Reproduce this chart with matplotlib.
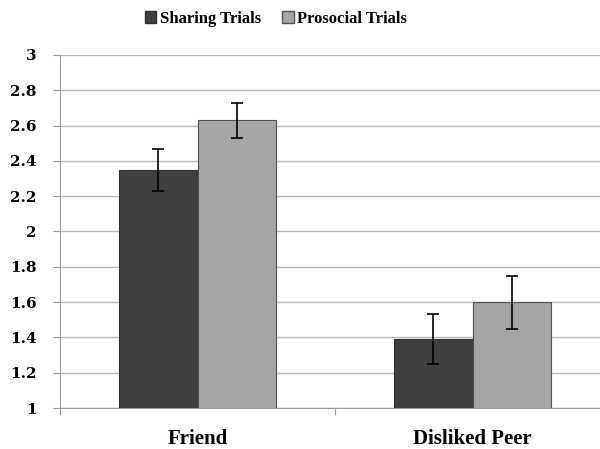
import numpy as np
import matplotlib.pyplot as plt
from matplotlib.patches import Patch

categories = ['Friend', 'Disliked Peer']
series = ['Sharing Trials', 'Prosocial Trials']
sharing = [2.35, 1.39]
sharing_err = [0.12, 0.14]
prosocial = [2.63, 1.60]
prosocial_err = [0.10, 0.15]
colors = ['#404040', '#a6a6a6']
yticks = [1, 1.2, 1.4, 1.6, 1.8, 2, 2.2, 2.4, 2.6, 2.8, 3]
yticklabels = ['1', '1.2', '1.4', '1.6', '1.8', '2', '2.2', '2.4', '2.6', '2.8', '3']

plt.rcParams['font.family'] = ['Liberation Serif', 'DejaVu Serif']
plt.rcParams['font.weight'] = 'bold'

fig = plt.figure(figsize=(6, 4.49), dpi=100)
# plot area runs past the right edge, as in the cropped original
ax = fig.add_axes([60/600, 1 - 408/449, 550/600, 353/449])

x = np.arange(len(categories))
w = 0.285
ax.bar(x - w/2, sharing, w, color=colors[0], edgecolor='#303030', linewidth=0.8,
       yerr=sharing_err, error_kw=dict(ecolor='black', capsize=4, elinewidth=1.2, capthick=1.2), zorder=3)
ax.bar(x + w/2, prosocial, w, color=colors[1], edgecolor='#505050', linewidth=0.8,
       yerr=prosocial_err, error_kw=dict(ecolor='black', capsize=4, elinewidth=1.2, capthick=1.2), zorder=3)

ax.set_ylim(1, 3)
ax.set_xlim(-0.5, 1.5)
ax.set_yticks(yticks)
ax.set_yticklabels(yticklabels, fontsize=11, fontweight='bold', family='DejaVu Serif')
ax.yaxis.grid(True, color='#b8b8b8', linewidth=1.0, zorder=0)
ax.set_axisbelow(True)

ax.set_xticks([-0.5, 0.5, 1.5])
ax.set_xticklabels(['', '', ''])
for xi, lab in zip(x, categories):
    ax.text(xi, -21/353, lab, transform=ax.get_xaxis_transform(), ha='center', va='top',
            fontsize=15, fontweight='bold')

for s in ['top', 'right']:
    ax.spines[s].set_visible(False)
ax.spines['left'].set_color('#999999')
ax.spines['bottom'].set_color('#999999')
ax.tick_params(axis='y', colors='#999999', labelcolor='black', length=5, pad=12)
ax.tick_params(axis='x', colors='#999999', length=5)

handles = [Patch(facecolor=colors[0], edgecolor='#303030'),
           Patch(facecolor=colors[1], edgecolor='#505050')]
fig.legend(handles, series, loc='center', bbox_to_anchor=(276/600, 1 - 19/449), ncol=2, frameon=False,
           prop={'size': 12, 'weight': 'bold'}, handlelength=0.7, handleheight=0.7,
           handletextpad=0.2, columnspacing=1.3)

fig.savefig('out.png', dpi=100)
